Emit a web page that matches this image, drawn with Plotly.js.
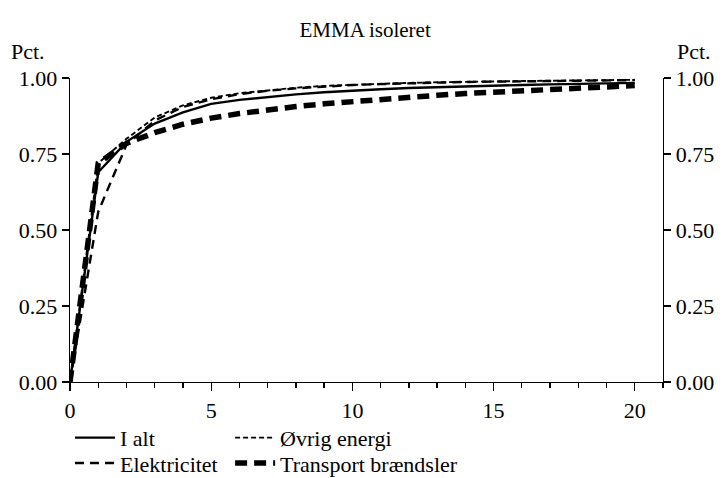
<!DOCTYPE html>
<html>
<head>
<meta charset="utf-8">
<script src="https://cdn.plot.ly/plotly-3.0.1.min.js"></script>
<style>html,body{margin:0;padding:0;background:#fff;}#chart{width:723px;height:478px;}</style>
</head>
<body>
<div id="chart"></div>
<script>
var years = [0,1,2,3,4,5,6,7,8,9,10,11,12,13,14,15,16,17,18,19,20];
var iAlt = [0,0.69,0.79,0.85,0.887,0.915,0.928,0.938,0.946,0.953,0.959,0.963,0.967,0.970,0.973,0.975,0.977,0.979,0.981,0.982,0.984];
var oevrigEnergi = [0,0.72,0.80,0.87,0.91,0.935,0.95,0.96,0.968,0.974,0.978,0.981,0.984,0.986,0.988,0.989,0.990,0.991,0.992,0.993,0.994];
var elektricitet = [0,0.56,0.78,0.86,0.905,0.93,0.947,0.958,0.966,0.972,0.977,0.980,0.983,0.985,0.987,0.988,0.989,0.990,0.991,0.992,0.993];
var transport = [0,0.72,0.785,0.82,0.848,0.868,0.883,0.896,0.906,0.915,0.923,0.930,0.937,0.943,0.949,0.954,0.959,0.963,0.967,0.971,0.975];
var names = ["I alt","Øvrig energi","Elektricitet","Transport brændsler"];
var xTicks = [0,5,10,15,20];
var yTicks = [0,0.25,0.5,0.75,1];
var yTickText = ["0.00","0.25","0.50","0.75","1.00"];

var FONT = "Liberation Serif";
var FS = 22;
var traces = [
  {x: years, y: elektricitet, name: names[2], mode: "lines", line: {color: "#000", width: 2.4, dash: "9px,6px"}, legend: "legend3"},
  {x: years, y: oevrigEnergi, name: names[1], mode: "lines", line: {color: "#000", width: 1.9, dash: "5px,3px"}, legend: "legend2"},
  {x: years, y: iAlt, name: names[0], mode: "lines", line: {color: "#000", width: 2.4}, legend: "legend", yaxis: "y2"},
  {x: years, y: transport, name: names[3], mode: "lines", line: {color: "#000", width: 5.5, dash: "12px,7px"}, legend: "legend4"}
];
function leg(x, y) {
  return {x: x, y: y, xref: "paper", yref: "container", xanchor: "left", yanchor: "top", orientation: "h", bgcolor: "rgba(0,0,0,0)",
          font: {family: FONT, size: FS, color: "#000"}, itemwidth: 40, tracegroupgap: 0};
}
function yax(side) {
  return {range: [0, 1], tickvals: yTicks, ticktext: yTickText, ticks: "outside", ticklen: 7, tickwidth: 1.3, tickcolor: "#000",
          showline: true, linecolor: "#000", linewidth: 1.3, showgrid: false, zeroline: false, side: side,
          tickfont: {family: FONT, size: FS, color: "#000"}, fixedrange: true};
}
var y2 = yax("right"); y2.overlaying = "y"; y2.anchor = "x";
var layout = {
  width: 723, height: 478,
  margin: {l: 70, r: 60, t: 78, b: 96},
  paper_bgcolor: "#fff", plot_bgcolor: "#fff",
  font: {family: FONT, size: FS, color: "#000"},
  title: {text: "EMMA isoleret", x: 0.505, xanchor: "center", y: 0.937, yanchor: "middle", font: {family: FONT, size: 21, color: "#000"}},
  showlegend: true,
  legend: leg(0.0, 0.128),
  legend2: leg(0.27, 0.128),
  legend3: leg(0.0, 0.075),
  legend4: leg(0.27, 0.075),
  xaxis: {range: [0, 21], tickvals: xTicks, ticks: "outside", ticklen: 8, tickwidth: 1.3, tickcolor: "#000",
          minor: {dtick: 1, ticks: "outside", ticklen: 5, tickwidth: 1.3, tickcolor: "#000"},
          showline: true, linecolor: "#000", linewidth: 1.3, showgrid: false, zeroline: false,
          tickfont: {family: FONT, size: FS, color: "#000"}, fixedrange: true},
  yaxis: yax("left"),
  yaxis2: y2,
  annotations: [
    {text: "Pct.", xref: "paper", yref: "paper", x: -0.103, y: 1.087, xanchor: "left", yanchor: "middle", showarrow: false, font: {family: FONT, size: FS, color: "#000"}},
    {text: "Pct.", xref: "paper", yref: "paper", x: 1.085, y: 1.087, xanchor: "right", yanchor: "middle", showarrow: false, font: {family: FONT, size: FS, color: "#000"}}
  ]
};
Plotly.newPlot("chart", traces, layout, {staticPlot: true});
</script>
</body>
</html>
